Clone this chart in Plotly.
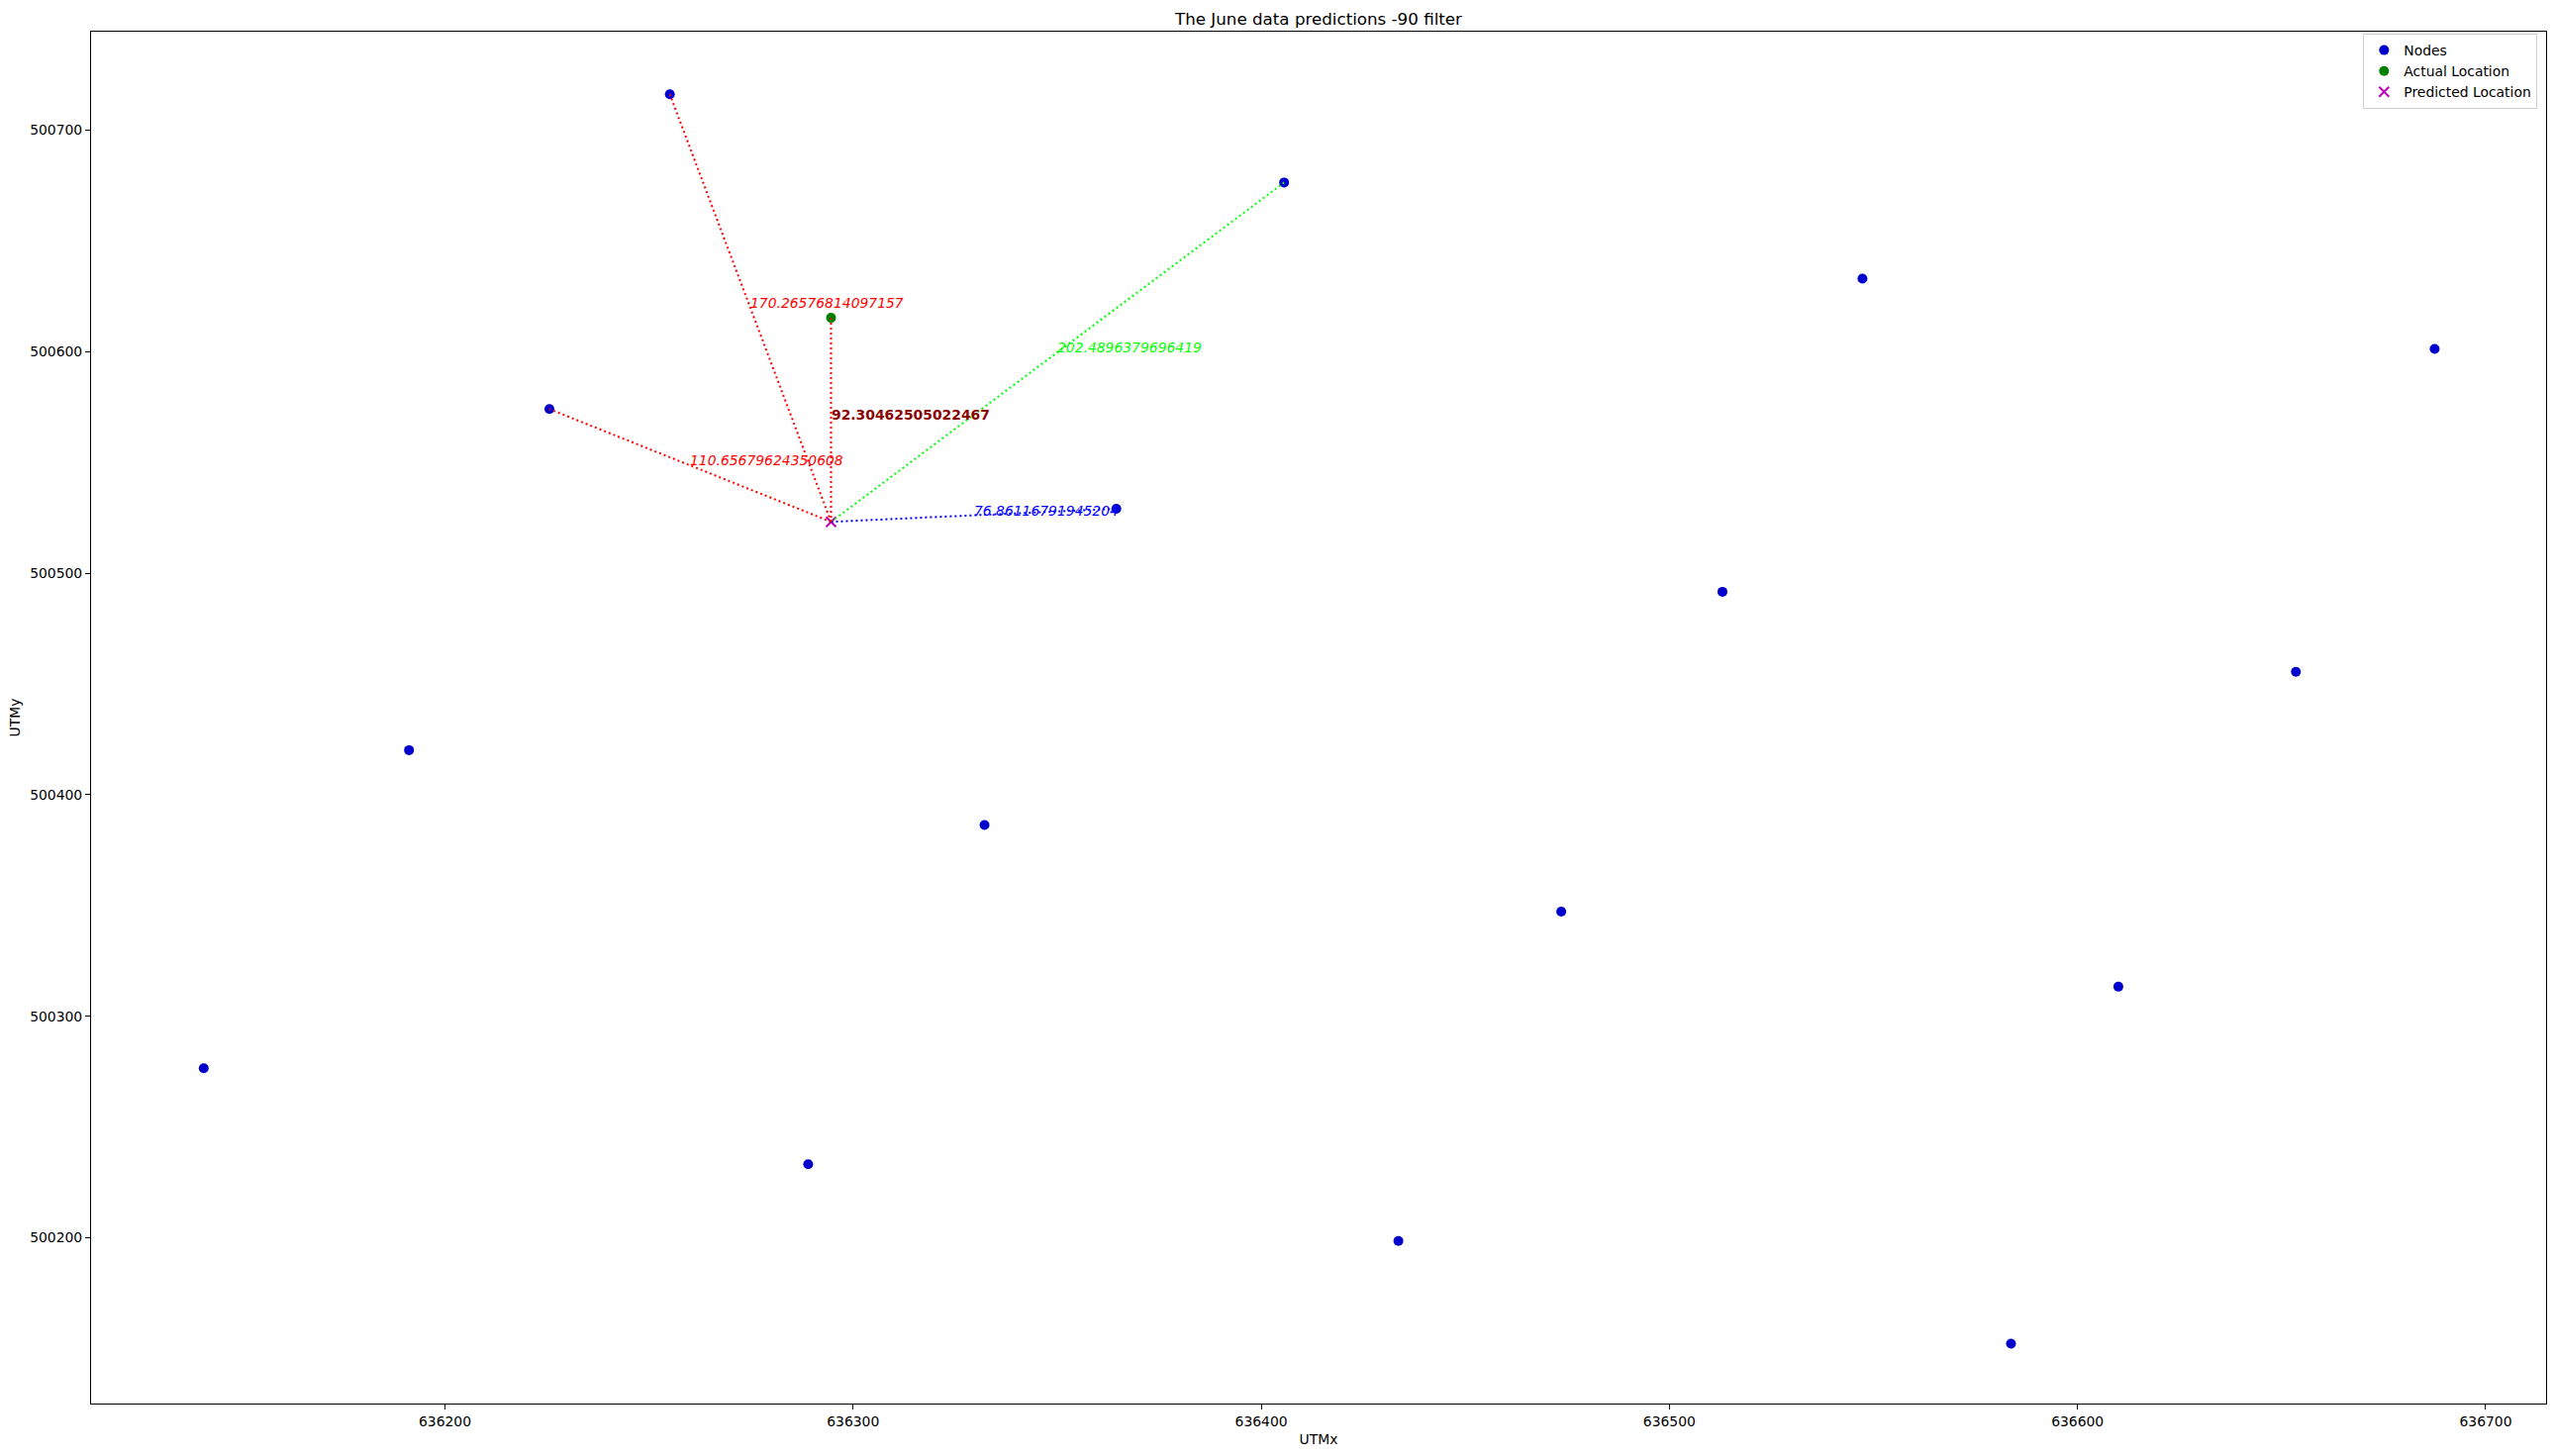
import plotly.graph_objects as go

# ---- data ----
node_x = [636140.9, 636191.2, 636225.6, 636255.1, 636289.0, 636332.2, 636364.5,
          636405.6, 636433.6, 636473.5, 636513.0, 636547.3, 636583.7, 636610.0,
          636653.5, 636687.5]
node_y = [500276.5, 500420.1, 500574.1, 500716.2, 500233.1, 500386.3, 500529.1,
          500676.4, 500198.5, 500347.2, 500491.6, 500633.0, 500152.1, 500313.3,
          500455.5, 500601.3]
actual_x = [636294.6]
actual_y = [500615.3]
pred_x = [636294.6]
pred_y = [500523.2]

# links from predicted location to selected nodes
link_node = [3, 2, 7, 6]
link_color = ["#FF0000", "#FF0000", "#00FF00", "#0000FF"]
link_label = ["170.26576814097157", "110.65679624350608", "202.4896379696419",
              "76.86116791945204"]
error_label = "92.30462505022467"

title = "The June data predictions -90 filter"
x_ticks = [636200, 636300, 636400, 636500, 636600, 636700]
y_ticks = [500200, 500300, 500400, 500500, 500600, 500700]

FONT = "DejaVu Sans"
FS = 13.9

fig = go.Figure()

fig.add_trace(go.Scatter(x=node_x, y=node_y, mode="markers", name="Nodes",
                         marker=dict(color="mediumblue", size=10, line=dict(width=0))))
fig.add_trace(go.Scatter(x=actual_x, y=actual_y, mode="markers", name="Actual Location",
                         marker=dict(color="green", size=10, line=dict(width=0))))
fig.add_trace(go.Scatter(x=pred_x, y=pred_y, mode="markers", name="Predicted Location",
                         marker=dict(color="#BF00BF", size=10, symbol="x-thin",
                                     line=dict(width=2, color="#BF00BF"))))

annotations = []
for idx, col, lab in zip(link_node, link_color, link_label):
    x0, y0 = pred_x[0], pred_y[0]
    x1, y1 = node_x[idx], node_y[idx]
    fig.add_trace(go.Scatter(x=[x0, x1], y=[y0, y1], mode="lines", showlegend=False,
                             hoverinfo="skip",
                             line=dict(color=col, width=2, dash="2px,3px")))
    annotations.append(dict(x=(x0 + x1) / 2, y=(y0 + y1) / 2, text=lab, showarrow=False,
                            xanchor="left", yanchor="bottom", xshift=-2, yshift=-5,
                            font=dict(family=FONT, size=FS, color=col, style="italic")))

# error line: actual -> predicted
fig.add_trace(go.Scatter(x=[actual_x[0], pred_x[0]], y=[actual_y[0], pred_y[0]],
                         mode="lines", showlegend=False, hoverinfo="skip",
                         line=dict(color="#FF0000", width=2, dash="2px,3px")))
annotations.append(dict(x=(actual_x[0] + pred_x[0]) / 2, y=(actual_y[0] + pred_y[0]) / 2,
                        text="<b>" + error_label + "</b>", showarrow=False,
                        xanchor="left", yanchor="bottom", xshift=-2, yshift=-5,
                        font=dict(family=FONT, size=FS, color="#8B0000")))

axis_common = dict(showgrid=False, zeroline=False, showline=True, mirror=True,
                   linecolor="black", linewidth=1.1, ticks="outside", ticklen=5,
                   tickwidth=1.1, tickcolor="black", automargin=False,
                   tickfont=dict(family=FONT, size=FS, color="black"))

fig.update_layout(
    width=2581, height=1471,
    margin=dict(l=92, r=9, t=32, b=53, pad=0),
    paper_bgcolor="white", plot_bgcolor="white",
    font=dict(family=FONT, size=FS, color="black"),
    title=dict(text=title, x=0.5, xref="paper", y=1 - 19 / 1471, yref="container",
               xanchor="center", yanchor="middle",
               font=dict(family=FONT, size=16.7, color="black")),
    xaxis=dict(range=[636113.3, 636714.8], tickvals=x_ticks,
               ticktext=[str(v) for v in x_ticks],
               title=dict(text="UTMx", standoff=6, font=dict(family=FONT, size=FS)),
               **axis_common),
    yaxis=dict(range=[500125.1, 500744.5], tickvals=y_ticks,
               ticktext=[str(v) for v in y_ticks],
               title=dict(text="UTMy", standoff=6, font=dict(family=FONT, size=FS)),
               **axis_common),
    legend=dict(x=0.9965, y=0.9985, xanchor="right", yanchor="top",
                bgcolor="white", bordercolor="#d0d0d0", borderwidth=1,
                font=dict(family=FONT, size=FS, color="black")),
    annotations=annotations,
    showlegend=True,
)

fig.write_html("out.html")
